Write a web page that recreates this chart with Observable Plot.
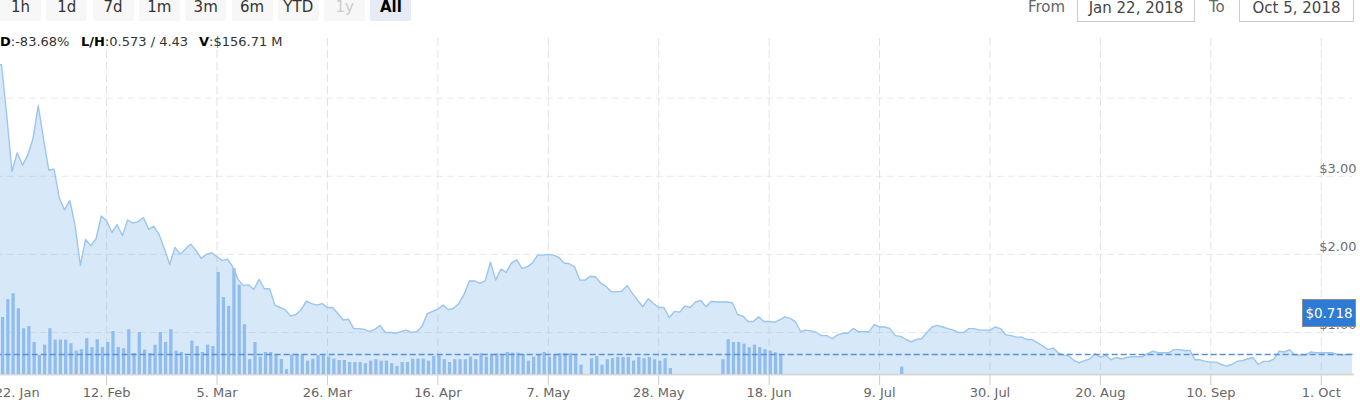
<!DOCTYPE html>
<html>
<head>
<meta charset="utf-8">
<script src="https://cdn.jsdelivr.net/npm/d3@7"></script>
<script src="https://cdn.jsdelivr.net/npm/@observablehq/plot@0.6"></script>
<style>
  html, body { margin: 0; padding: 0; background: #fff; overflow: hidden; }
  body { width: 1360px; height: 405px; position: relative; font-family: "DejaVu Sans", sans-serif; }
  .btn { position: absolute; top: -7px; width: 41px; height: 28px; line-height: 28px; text-align: center;
         background: #f7f7f7; color: #333; font-size: 15px; border-radius: 2px; }
  .btn.disabled { color: #cccccc; }
  .btn.sel { background: #e6ebf5; color: #000; font-weight: bold; }
  .lbl { position: absolute; top: -7px; height: 28px; line-height: 28px; color: #666; font-size: 15px; }
  .inp { position: absolute; top: -7px; height: 29px; line-height: 28px; border: 1px solid #cccccc; background: #fff;
         color: #444; font-size: 15px; text-align: center; box-sizing: border-box; white-space: nowrap; }
  .stat { position: absolute; top: 33.5px; line-height: 16px; font-size: 13px; color: #333; white-space: pre; }
  .stat b { color: #000; }
  #chart { position: absolute; left: 0; top: 0; width: 1360px; height: 405px; overflow: hidden; }
  #chart svg { position: absolute; left: -20px; top: 0; max-width: none !important; width: 1385px !important; height: 405px !important; }
  #last { position: absolute; left: 1302px; top: 299px; width: 54px; height: 28px; box-sizing: border-box;
          background: #2d7bd4; border: 1px solid #8c8c8c; color: #fff; font-size: 13.5px; line-height: 26px; text-align: center; }
</style>
</head>
<body>
<div id="chart"></div>
<div id="topbar"></div>
<script>
// ---------- data ----------
const startDate = "2018-01-22";
const fromLabel = "Jan 22, 2018";
const toLabel = "Oct 5, 2018";
const rangeButtons = ["1h", "1d", "7d", "1m", "3m", "6m", "YTD", "1y", "All"];
const disabledButton = "1y";
const selectedButton = "All";
const statChange = "-83.68%";
const statLow = "0.573";
const statHigh = "4.43";
const statVolume = "$156.71 M";
const lastPrice = 0.718;

// daily closing price (USD), one value per day from startDate
const prices = [
  4.43, 4.43, 3.78, 3.06, 3.30, 3.14, 3.27, 3.48, 3.90, 3.48,
  3.08, 3.09, 2.72, 2.57, 2.69, 2.37, 1.86, 2.19, 2.11, 2.20,
  2.49, 2.43, 2.28, 2.38, 2.24, 2.44, 2.40, 2.42, 2.47, 2.32,
  2.36, 2.25, 2.07, 1.87, 2.09, 2.00, 2.07, 2.13, 2.05, 1.95,
  2.00, 2.02, 1.97, 1.92, 1.94, 1.84, 1.68, 1.60, 1.61, 1.55,
  1.68, 1.56, 1.56, 1.35, 1.32, 1.29, 1.21, 1.23, 1.29, 1.40,
  1.37, 1.35, 1.37, 1.32, 1.32, 1.24, 1.16, 1.17, 1.05, 1.05,
  1.04, 1.01, 1.04, 1.09, 1.00, 1.00, 0.99, 1.01, 1.03, 1.00,
  1.01, 1.08, 1.24, 1.27, 1.30, 1.35, 1.29, 1.31, 1.37, 1.49,
  1.66, 1.66, 1.63, 1.66, 1.90, 1.67, 1.81, 1.77, 1.89, 1.93,
  1.82, 1.84, 1.89, 1.99, 1.99, 2.00, 1.99, 1.96, 1.89, 1.88,
  1.84, 1.67, 1.67, 1.72, 1.71, 1.63, 1.59, 1.52, 1.52, 1.53,
  1.60, 1.50, 1.41, 1.33, 1.43, 1.37, 1.32, 1.32, 1.19, 1.27,
  1.26, 1.34, 1.32, 1.39, 1.41, 1.33, 1.40, 1.39, 1.39, 1.39,
  1.38, 1.23, 1.21, 1.14, 1.14, 1.20, 1.14, 1.14, 1.13, 1.16,
  1.20, 1.18, 1.14, 1.01, 1.03, 1.02, 1.00, 0.96, 0.96, 0.92,
  0.97, 0.99, 0.99, 1.05, 1.01, 1.01, 1.01, 1.10, 1.07, 1.07,
  1.05, 0.96, 0.95, 0.91, 0.88, 0.91, 0.92, 1.00, 1.07, 1.09,
  1.07, 1.05, 1.03, 1.00, 1.00, 1.05, 1.05, 1.03, 1.03, 1.03,
  1.07, 1.05, 0.97, 0.96, 0.94, 0.94, 0.91, 0.91, 0.87, 0.83,
  0.78, 0.80, 0.74, 0.71, 0.70, 0.64, 0.61, 0.64, 0.66, 0.73,
  0.68, 0.71, 0.65, 0.68, 0.66, 0.68, 0.69, 0.69, 0.69, 0.73,
  0.76, 0.74, 0.74, 0.74, 0.78, 0.78, 0.77, 0.77, 0.65, 0.65,
  0.63, 0.62, 0.62, 0.59, 0.57, 0.59, 0.63, 0.64, 0.66, 0.68,
  0.59, 0.63, 0.63, 0.66, 0.76, 0.75, 0.78, 0.71, 0.71, 0.71,
  0.75, 0.74, 0.74, 0.74, 0.74, 0.72, 0.71, 0.72, 0.72
];

// daily volume ($M), one value per day from startDate, null = no bar
const volumes = [
  250, 285, 374, 404, 329, 229, 240, 160, 95, 147,
  229, 172, 172, 172, 154, 117, 124, 179, 135, 174,
  135, 160, 215, 135, 129, 224, 105, 210, 122, 105,
  147, 210, 160, 224, 117, 110, 90, 167, 140, 110,
  147, 140, 510, 385, 340, 529, 447, 249, 74, 160,
  87, 110, 110, 100, 75, 24, 97, 97, 97, 67,
  77, 94, 94, 87, 77, 70, 70, 60, 60, 60,
  54, 67, 74, 67, 67, 54, 40, 60, 60, 77,
  77, 77, 67, 90, 94, 74, 60, 74, 74, 74,
  87, 74, 104, 87, 100, 104, 100, 110, 107, 107,
  100, 67, 87, 100, 110, 87, 99, 104, 104, 104,
  94, 47, null, 79, 90, 47, 74, 79, 85, 85,
  85, 67, 85, 79, 85, 74, 67, 79, 30, null,
  null, null, null, null, null, null, null, null, 74, 174,
  160, 160, 152, 134, 147, 134, 124, 117, 109, 94,
  null, null, null, null, null, null, null, null, null, null,
  null, null, null, null, null, null, null, null, null, null,
  null, null, 37
];

const xTicks = ["2018-01-22", "2018-02-12", "2018-03-05", "2018-03-26", "2018-04-16", "2018-05-07",
                "2018-05-28", "2018-06-18", "2018-07-09", "2018-07-30", "2018-08-20", "2018-09-10", "2018-10-01"];
const yTickValues = [1, 2, 3];
const yGridValues = [1, 2, 3, 4];
const priceDomain = [0.462, 4.764];
const volumeDomain = [0, 1680];

// ---------- build ----------
const day0 = new Date(startDate);
const priceData = prices.map((p, i) => ({date: d3.utcDay.offset(day0, i), price: p}));
const volData = volumes.map((v, i) => ({date: d3.utcDay.offset(day0, i), vol: v})).filter(d => d.vol != null);
const xTickDates = xTicks.map(d => new Date(d));
const fmtX = d3.utcFormat("%-d. %b");

const base = {
  width: 1385, height: 405,
  marginLeft: 15.7, marginRight: 12.7, marginTop: 38, marginBottom: 31,
  x: {type: "utc", domain: [priceData[0].date, priceData[priceData.length - 1].date], label: null},
  style: {fontFamily: "DejaVu Sans", fontSize: "13px", background: "transparent", color: "#666", maxWidth: "none"}
};

const plotA = Plot.plot({
  ...base,
  y: {domain: priceDomain, label: null},
  marks: [
    Plot.gridX(xTickDates, {stroke: "#e2e2e2", strokeOpacity: 1, strokeDasharray: "8,4"}),
    Plot.gridY(yGridValues, {stroke: "#e8e8e8", strokeOpacity: 1, strokeDasharray: "7,4"}),
    Plot.areaY(priceData, {x: "date", y: "price", fill: "#7cb5ec", fillOpacity: 0.3, clip: true}),
    Plot.axisX(xTickDates.slice(1), {tickSize: 11, tickPadding: 2.5, tickFormat: fmtX, stroke: "#cccccc", fill: "#666", label: null}),
    Plot.axisX(xTickDates.slice(0, 1), {tickSize: 0, tickPadding: 13.5, dx: 21, tickFormat: fmtX, fill: "#666", label: null}),
    Plot.axisY(yTickValues, {anchor: "right", tickSize: 0, tickPadding: 3.7, textAnchor: "end", dy: -7.5,
                             tickFormat: d => "$" + d.toFixed(2), fill: "#6a6f78", label: null}),
    Plot.frame({anchor: "bottom", stroke: "#d8d8d8", strokeWidth: 2})
  ]
});

const plotB = Plot.plot({
  ...base,
  x: {...base.x, axis: null},
  y: {domain: volumeDomain, axis: null},
  marks: [
    Plot.rectY(volData, {x: "date", y: "vol", interval: "day", fill: "#90bdee", insetRight: 2})
  ]
});

const plotC = Plot.plot({
  ...base,
  x: {...base.x, axis: null},
  y: {domain: priceDomain, axis: null},
  marks: [
    Plot.lineY(priceData, {x: "date", y: "price", stroke: "#9cc5ef", strokeWidth: 1.4}),
    Plot.ruleY([lastPrice], {stroke: "#5a90d8", strokeWidth: 1.5, strokeDasharray: "6,3"})
  ]
});

const chart = document.getElementById("chart");
chart.append(plotA, plotB, plotC);

const lastBox = document.createElement("div");
lastBox.id = "last";
lastBox.textContent = "$" + lastPrice;
chart.append(lastBox);

// ---------- top controls ----------
const topBar = document.getElementById("topbar");
rangeButtons.forEach((b, i) => {
  const el = document.createElement("div");
  el.className = "btn" + (b === disabledButton ? " disabled" : "") + (b === selectedButton ? " sel" : "");
  el.style.left = (i * 46.3) + "px";
  el.textContent = b;
  topBar.append(el);
});
topBar.insertAdjacentHTML("beforeend", `
  <div class="lbl" style="left:1028px">From</div>
  <div class="inp" style="left:1077px;width:118px">${fromLabel}</div>
  <div class="lbl" style="left:1209px">To</div>
  <div class="inp" style="left:1239px;width:115px">${toLabel}</div>
  <div class="stat" style="left:0px"><b>D</b>:${statChange}</div>
  <div class="stat" style="left:81px"><b>L/H</b>:${statLow} / ${statHigh}</div>
  <div class="stat" style="left:199px"><b>V</b>:${statVolume}</div>
`);
</script>
</body>
</html>
